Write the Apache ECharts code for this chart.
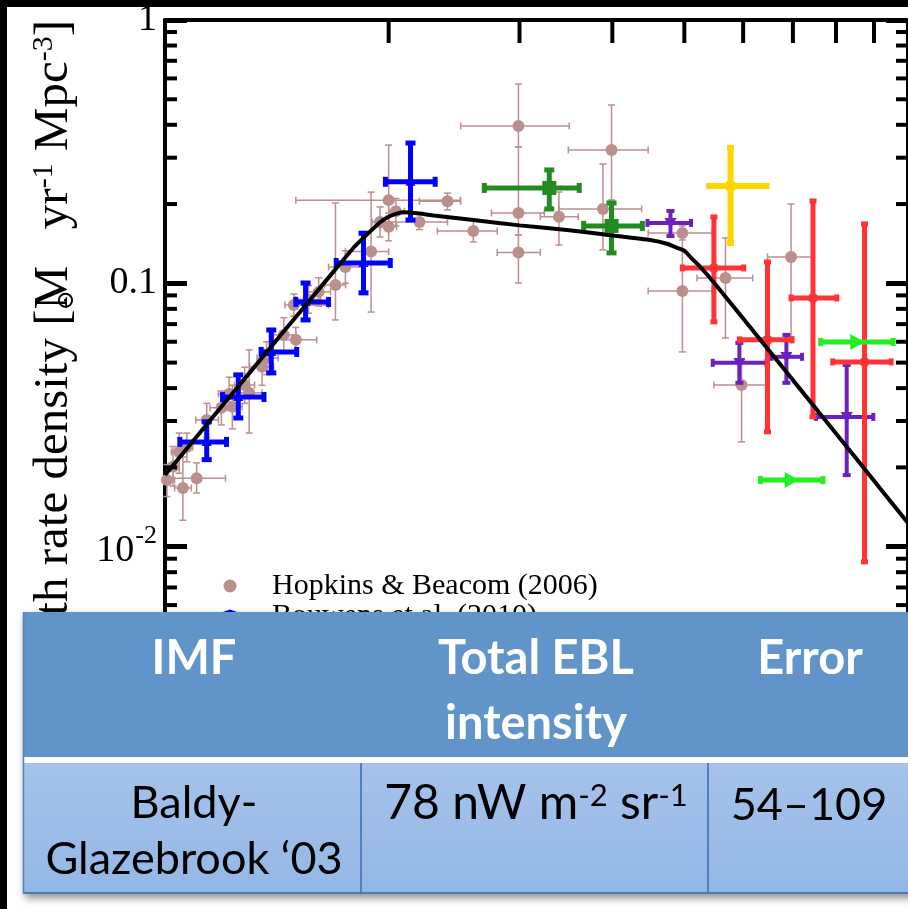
<!DOCTYPE html>
<html>
<head>
<meta charset="utf-8">
<script src="https://cdn.jsdelivr.net/npm/echarts@6/dist/echarts.min.js"></script>
<style>
html, body { margin: 0; padding: 0; background: #fff; }
#chart { width: 908px; height: 909px; }
</style>
</head>
<body>
<div id="chart"></div>
<script>
// Each row: [z, zLow, zHigh, rate, rateLow, rateHigh]  (rate in M_sun yr^-1 Mpc^-3)
const hopkinsBeacom = [
  [0.006, 0.0, 0.03, 0.0179, 0.0155, 0.0205],
  [0.025, 0.01, 0.045, 0.0201, 0.017, 0.024],
  [0.045, 0.02, 0.07, 0.0229, 0.019, 0.027],
  [0.057, 0.03, 0.085, 0.0167, 0.0126, 0.0219],
  [0.07, 0.05, 0.09, 0.0239, 0.021, 0.027],
  [0.103, 0.025, 0.206, 0.0182, 0.016, 0.0208],
  [0.138, 0.10, 0.18, 0.0303, 0.026, 0.035],
  [0.191, 0.15, 0.23, 0.0337, 0.029, 0.039],
  [0.22, 0.18, 0.26, 0.038, 0.033, 0.044],
  [0.232, 0.20, 0.27, 0.034, 0.028, 0.041],
  [0.28, 0.24, 0.32, 0.0411, 0.035, 0.048],
  [0.298, 0.25, 0.35, 0.0384, 0.027, 0.0559],
  [0.351, 0.30, 0.40, 0.0482, 0.041, 0.056],
  [0.37, 0.33, 0.42, 0.052, 0.045, 0.060],
  [0.445, 0.40, 0.50, 0.0637, 0.055, 0.074],
  [0.50, 0.393, 0.60, 0.061, 0.055, 0.068],
  [0.491, 0.45, 0.66, 0.0828, 0.075, 0.091],
  [0.56, 0.50, 0.62, 0.0868, 0.077, 0.098],
  [0.61, 0.55, 0.67, 0.0928, 0.082, 0.105],
  [0.696, 0.64, 0.75, 0.0986, 0.0726, 0.202],
  [0.749, 0.66, 0.85, 0.1154, 0.10, 0.133],
  [0.894, 0.749, 1.0, 0.132, 0.0778, 0.222],
  [0.947, 0.90, 1.0, 0.171, 0.15, 0.195],
  [1.0, 0.95, 1.05, 0.164, 0.145, 0.185],
  [1.0, 0.50, 1.497, 0.207, 0.18, 0.335],
  [1.045, 1.0, 1.1, 0.188, 0.165, 0.21],
  [1.2, 1.0, 1.4, 0.171, 0.16, 0.185],
  [1.4, 1.2, 1.5, 0.205, 0.19, 0.22],
  [1.6, 1.326, 1.8, 0.158, 0.1436, 0.1741],
  [1.99, 1.50, 2.50, 0.396, 0.3295, 0.5715],
  [1.99, 1.75, 2.24, 0.185, 0.1526, 0.3295],
  [1.99, 1.80, 2.20, 0.131, 0.1003, 0.1526],
  [2.39, 2.20, 2.60, 0.179, 0.1398, 0.2223],
  [2.885, 2.39, 3.38, 0.1916, 0.1339, 0.284],
  [2.99, 2.49, 3.47, 0.321, 0.2073, 0.4756],
  [3.97, 3.47, 4.45, 0.1553, 0.1461, 0.1652],
  [3.97, 3.47, 4.45, 0.0936, 0.0549, 0.1553],
  [4.68, 4.20, 5.18, 0.1048, 0.062, 0.1487],
  [4.97, 4.48, 5.45, 0.0411, 0.025, 0.0512],
  [5.96, 5.47, 6.43, 0.126, 0.0626, 0.2001]
];

const bouwens = [
  [1.14, 0.98, 1.31, 0.243, 0.174, 0.341],
  [0.85, 0.70, 1.01, 0.1195, 0.092, 0.155],
  [0.546, 0.50, 0.66, 0.085, 0.0726, 0.1003],
  [0.39, 0.347, 0.504, 0.0549, 0.0457, 0.0665],
  [0.255, 0.195, 0.359, 0.037, 0.0308, 0.0449],
  [0.138, 0.047, 0.21, 0.025, 0.0214, 0.0298]
];

const greenSquares = [
  [2.29, 1.69, 2.61, 0.2303, 0.1916, 0.2695],
  [2.99, 2.66, 3.39, 0.1652, 0.1305, 0.2019]
];

const purpleTriangles = [
  [3.79, 3.46, 4.105, 0.1696, 0.1513, 0.1883],
  [4.93, 4.46, 5.45, 0.0499, 0.0419, 0.0594],
  [5.86, 5.55, 6.20, 0.0526, 0.0419, 0.0637],
  [7.27, 6.52, 7.98, 0.0311, 0.0187, 0.049]
];

const yellowPoints = [
  [4.77, 4.35, 5.51, 0.2344, 0.1423, 0.3266]
];

const redPoints = [
  [4.48, 3.97, 5.01, 0.1144, 0.0714, 0.1787],
  [5.47, 4.93, 5.98, 0.061, 0.0273, 0.1206],
  [6.45, 5.96, 7.02, 0.088, 0.0311, 0.2055],
  [7.74, 6.92, 8.49, 0.0503, 0.00876, 0.1681]
];

// lower limits: no vertical range
const limePoints = [
  [7.53, 6.63, 8.55, 0.0599, 0.0599, 0.0599],
  [5.96, 5.33, 6.68, 0.0179, 0.0179, 0.0179]
];

// fitted history of the stellar birth rate
const curveZ = [0, 0.1, 0.2, 0.3, 0.4, 0.5, 0.6, 0.7, 0.8, 0.9, 0.95, 1.0, 1.05, 1.1, 1.2, 1.3,
  1.6, 2.0, 2.5, 3.0, 3.5, 3.75, 3.9, 4.0, 4.1, 4.25, 4.5, 5.0, 5.5, 6.0, 7.0, 8.0, 9.0];
const curveRate = [0.0187, 0.0259, 0.0349, 0.0458, 0.0590, 0.0745, 0.0928, 0.114, 0.138, 0.160,
  0.171, 0.179, 0.184, 0.186, 0.184, 0.181, 0.174, 0.166, 0.159, 0.152, 0.146, 0.141, 0.136,
  0.133, 0.1255, 0.1156, 0.0995, 0.0735, 0.0556, 0.0429, 0.0269, 0.0178, 0.0123];

// axis ticks (x axis is 1+z)
const xTicks = [2, 3, 4, 5, 6, 7, 8, 9];
const yMajorTicks = [1, 0.1, 0.01, 0.001];
const yTickLabels = ['{base|1}', '{base|0.1}', '{base|10}{sup|-2}', '{base|10}{sup|-3}'];
const yMinorTicks = [0.002, 0.003, 0.004, 0.005, 0.006, 0.007, 0.008, 0.009,
  0.02, 0.03, 0.04, 0.05, 0.06, 0.07, 0.08, 0.09,
  0.2, 0.3, 0.4, 0.5, 0.6, 0.7, 0.8, 0.9];

// table contents
const tableHeader = ['IMF', 'Total EBL\nintensity', 'Error'];
const tableRow = ['Baldy-\nGlazebrook \u201803', '{n|78 nW m}{s|-2}{n| sr}{s|-1}', '54\u2013109'];

const SERIF = "'Liberation Serif', 'Times New Roman', 'DejaVu Serif', serif";

function markerShape(kind, cx, cy, size, color) {
  const h = size / 2;
  if (kind === 'circle') return { type: 'circle', shape: { cx, cy, r: h }, style: { fill: color } };
  if (kind === 'square') return { type: 'rect', shape: { x: cx - h, y: cy - h, width: size, height: size }, style: { fill: color } };
  let pts;
  if (kind === 'triangle') pts = [[cx, cy - h], [cx + h, cy + h * 0.8], [cx - h, cy + h * 0.8]];
  else if (kind === 'triangleDown') pts = [[cx, cy + h], [cx + h, cy - h * 0.8], [cx - h, cy - h * 0.8]];
  else pts = [[cx + h, cy], [cx - h * 0.8, cy - h], [cx - h * 0.8, cy + h]];
  return { type: 'polygon', shape: { points: pts }, style: { fill: color } };
}

function errorBarSeries(name, rows, st) {
  return {
    type: 'custom',
    name: name,
    z: st.z,
    silent: true,
    itemStyle: { color: st.color },
    data: rows.map(r => [1 + r[0], r[3], 1 + r[1], 1 + r[2], r[4], r[5]]),
    encode: { x: [0, 2, 3], y: [1, 4, 5] },
    renderItem: function (params, api) {
      const c = api.coord([api.value(0), api.value(1)]);
      const xl = api.coord([api.value(2), api.value(1)])[0];
      const xh = api.coord([api.value(3), api.value(1)])[0];
      const yl = api.coord([api.value(0), api.value(4)])[1];
      const yh = api.coord([api.value(0), api.value(5)])[1];
      const ls = { stroke: st.color, lineWidth: st.width };
      const h = st.cap / 2;
      const seg = (x1, y1, x2, y2) => ({ type: 'line', shape: { x1, y1, x2, y2 }, style: ls });
      const kids = [seg(xl, c[1], xh, c[1])];
      if (st.cap > 0 && st.xCaps !== false) {
        kids.push(seg(xl, c[1] - h, xl, c[1] + h), seg(xh, c[1] - h, xh, c[1] + h));
      }
      if (Math.abs(yl - yh) > 0.5) {
        kids.push(seg(c[0], yl, c[0], yh));
        if (st.cap > 0) kids.push(seg(c[0] - h, yl, c[0] + h, yl), seg(c[0] - h, yh, c[0] + h, yh));
      }
      kids.push(markerShape(st.marker, c[0], c[1], st.size, st.color));
      return { type: 'group', children: kids };
    }
  };
}

const chart = echarts.init(document.getElementById('chart'), null, { renderer: 'canvas' });

const option = {
  backgroundColor: '#fff',
  animation: false,
  grid: { left: 165, top: 20, width: 750, height: 790, containLabel: false },
  xAxis: {
    type: 'log', logBase: 10, min: 1, max: 10, position: 'top',
    axisLine: { show: true, lineStyle: { color: '#000', width: 4 } },
    axisTick: { show: false }, axisLabel: { show: false }, splitLine: { show: false }
  },
  yAxis: [
    {
      type: 'log', logBase: 10, min: 0.001, max: 1, position: 'left',
      axisLine: { show: true, lineStyle: { color: '#000', width: 4 } },
      axisTick: { show: true, inside: true, length: 22, lineStyle: { color: '#000', width: 5 } },
      splitLine: { show: false },
      axisLabel: {
        margin: 8, color: '#000', fontFamily: SERIF, fontSize: 38,
        formatter: function (v) {
          const e = Math.round(Math.log10(v));
          const i = yMajorTicks.findIndex(t => Math.round(Math.log10(t)) === e);
          return i >= 0 ? yTickLabels[i] : '';
        },
        rich: {
          base: { fontFamily: SERIF, fontSize: 38, color: '#000', verticalAlign: 'bottom' },
          sup: { fontFamily: SERIF, fontSize: 26, color: '#000', verticalAlign: 'bottom', padding: [0, 0, 20, 1] }
        }
      }
    },
    {
      type: 'log', logBase: 10, min: 0.001, max: 1, position: 'right',
      axisLine: { show: true, lineStyle: { color: '#000', width: 4 } },
      axisTick: { show: true, inside: true, length: 22, lineStyle: { color: '#000', width: 5 } },
      axisLabel: { show: false }, splitLine: { show: false }
    }
  ],
  legend: {
    orient: 'vertical', left: 188, top: 566, itemWidth: 74, itemHeight: 13, itemGap: 0,
    selectedMode: false,
    data: [
      { name: 'Hopkins & Beacom (2006)', icon: 'circle' },
      { name: 'Bouwens et al. (2010)', icon: 'triangle' }
    ],
    textStyle: { fontFamily: SERIF, fontSize: 30, color: '#000', lineHeight: 25 }
  },
  series: [
    errorBarSeries('Hopkins & Beacom (2006)', hopkinsBeacom,
      { color: '#BC8F8F', width: 1.5, cap: 7, marker: 'circle', size: 12, z: 3 }),
    errorBarSeries('Bouwens et al. (2010)', bouwens,
      { color: '#0000FF', width: 5, cap: 10, marker: 'triangle', size: 10, z: 4 }),
    errorBarSeries('green squares', greenSquares,
      { color: '#228B22', width: 5, cap: 10, marker: 'square', size: 14, z: 4 }),
    errorBarSeries('purple triangles', purpleTriangles,
      { color: '#6B21BF', width: 4, cap: 8, marker: 'triangleDown', size: 12, z: 4 }),
    errorBarSeries('yellow points', yellowPoints,
      { color: '#FFD700', width: 6, cap: 7, xCaps: false, marker: 'circle', size: 12, z: 4 }),
    errorBarSeries('red points', redPoints,
      { color: '#FF3333', width: 5, cap: 7, marker: 'circle', size: 10, z: 4 }),
    errorBarSeries('lime limits', limePoints,
      { color: '#22EE22', width: 5, cap: 8, marker: 'triangleRight', size: 16, z: 4 }),
    {
      type: 'line', name: 'fit', z: 10, silent: true,
      data: curveZ.map((z, i) => [1 + z, curveRate[i]]),
      symbol: 'none', smooth: 0.15,
      lineStyle: { color: '#000', width: 4 }
    },
    {
      // minor ticks on the left and right frame edges
      type: 'custom', name: 'minor ticks', z: 6, silent: true,
      data: yMinorTicks.map(v => [1, v]),
      renderItem: function (params, api) {
        const l = api.coord([1, api.value(1)]);
        const r = api.coord([10, api.value(1)]);
        const s = { stroke: '#000', lineWidth: 4 };
        return { type: 'group', children: [
          { type: 'line', shape: { x1: l[0], y1: l[1], x2: l[0] + 12, y2: l[1] }, style: s },
          { type: 'line', shape: { x1: r[0] - 12, y1: r[1], x2: r[0], y2: r[1] }, style: s }
        ] };
      }
    },
    {
      // redshift ticks along the top edge
      type: 'custom', name: 'top ticks', z: 6, silent: true,
      data: xTicks.map(v => [v, 1]),
      renderItem: function (params, api) {
        const p = api.coord([api.value(0), 1]);
        return { type: 'line', shape: { x1: p[0], y1: p[1], x2: p[0], y2: p[1] + 23 },
          style: { stroke: '#000', lineWidth: 4 } };
      }
    }
  ],
  graphic: { elements: [
    {
      // vertical axis title, read bottom to top
      type: 'text', x: 54, y: 20, rotation: Math.PI / 2, z: 50, silent: true,
      style: {
        text: '{a|Stellar birth rate density [M   yr}{c|-1}{a| Mpc}{c|-3}{a|]}',
        align: 'right', verticalAlign: 'middle',
        rich: {
          a: { fontFamily: SERIF, fontSize: 49, fill: '#000' },
          c: { fontFamily: SERIF, fontSize: 30, fill: '#000', verticalAlign: 'top' }
        }
      }
    },
    {
      // solar-mass subscript tucked under the M
      type: 'text', x: 67, y: 300, rotation: Math.PI / 2, z: 50, silent: true,
      style: { text: '\u2299', fontFamily: "'DejaVu Serif', serif", fontSize: 24, fill: '#000', align: 'center', verticalAlign: 'middle' }
    },
    // table
    {
      type: 'rect', z: 100, silent: true,
      shape: { x: 23, y: 612, width: 900, height: 282 },
      style: { fill: '#6195C9', shadowBlur: 8, shadowOffsetX: 2, shadowOffsetY: 4, shadowColor: 'rgba(0,0,0,0.45)' }
    },
    {
      type: 'rect', z: 101, silent: true,
      shape: { x: 23, y: 757, width: 900, height: 6 },
      style: { fill: '#ffffff' }
    },
    {
      type: 'rect', z: 101, silent: true,
      shape: { x: 23, y: 763, width: 900, height: 131 },
      style: { fill: new echarts.graphic.LinearGradient(0, 0, 0, 1, [
        { offset: 0, color: '#A5C3EA' }, { offset: 1, color: '#93B7E5' }]) }
    },
    { type: 'line', z: 102, silent: true, shape: { x1: 361, y1: 763, x2: 361, y2: 894 }, style: { stroke: '#4F81BD', lineWidth: 2 } },
    { type: 'line', z: 102, silent: true, shape: { x1: 708, y1: 763, x2: 708, y2: 894 }, style: { stroke: '#4F81BD', lineWidth: 2 } },
    { type: 'line', z: 102, silent: true, shape: { x1: 23, y1: 893, x2: 908, y2: 893 }, style: { stroke: '#4A7EBB', lineWidth: 2 } },
    { type: 'line', z: 102, silent: true, shape: { x1: 23.5, y1: 612, x2: 23.5, y2: 894 }, style: { stroke: '#4F81BD', lineWidth: 1.5 } },
    {
      type: 'text', x: 194, y: 659, z: 103, silent: true,
      style: { text: tableHeader[0], fill: '#fff', fontFamily: 'Lato', fontWeight: 'bold', fontSize: 47, align: 'center', verticalAlign: 'middle' }
    },
    {
      type: 'text', x: 536, y: 691, z: 103, silent: true,
      style: { text: tableHeader[1], fill: '#fff', fontFamily: 'Lato', fontWeight: 'bold', fontSize: 47, lineHeight: 65, align: 'center', verticalAlign: 'middle' }
    },
    {
      type: 'text', x: 810, y: 659, z: 103, silent: true,
      style: { text: tableHeader[2], fill: '#fff', fontFamily: 'Lato', fontWeight: 'bold', fontSize: 47, align: 'center', verticalAlign: 'middle' }
    },
    {
      type: 'text', x: 194, y: 831, z: 103, silent: true,
      style: { text: tableRow[0], fill: '#000', fontFamily: 'Lato', fontSize: 45, lineHeight: 56, align: 'center', verticalAlign: 'middle' }
    },
    {
      type: 'text', x: 536, y: 804, z: 103, silent: true,
      style: {
        text: tableRow[1], align: 'center', verticalAlign: 'middle',
        rich: {
          n: { fill: '#000', fontFamily: 'Lato', fontSize: 48 },
          s: { fill: '#000', fontFamily: 'Lato', fontSize: 31, verticalAlign: 'top' }
        }
      }
    },
    {
      type: 'text', x: 809, y: 805, z: 103, silent: true,
      style: { text: tableRow[2], fill: '#000', fontFamily: 'Lato', fontSize: 45, align: 'center', verticalAlign: 'middle' }
    },
    // slide frame edges
    { type: 'rect', z: 200, silent: true, shape: { x: 0, y: 0, width: 908, height: 7 }, style: { fill: '#000' } },
    { type: 'rect', z: 200, silent: true, shape: { x: 0, y: 0, width: 7, height: 909 }, style: { fill: '#000' } }
  ] }
};

chart.setOption(option);
</script>
</body>
</html>
